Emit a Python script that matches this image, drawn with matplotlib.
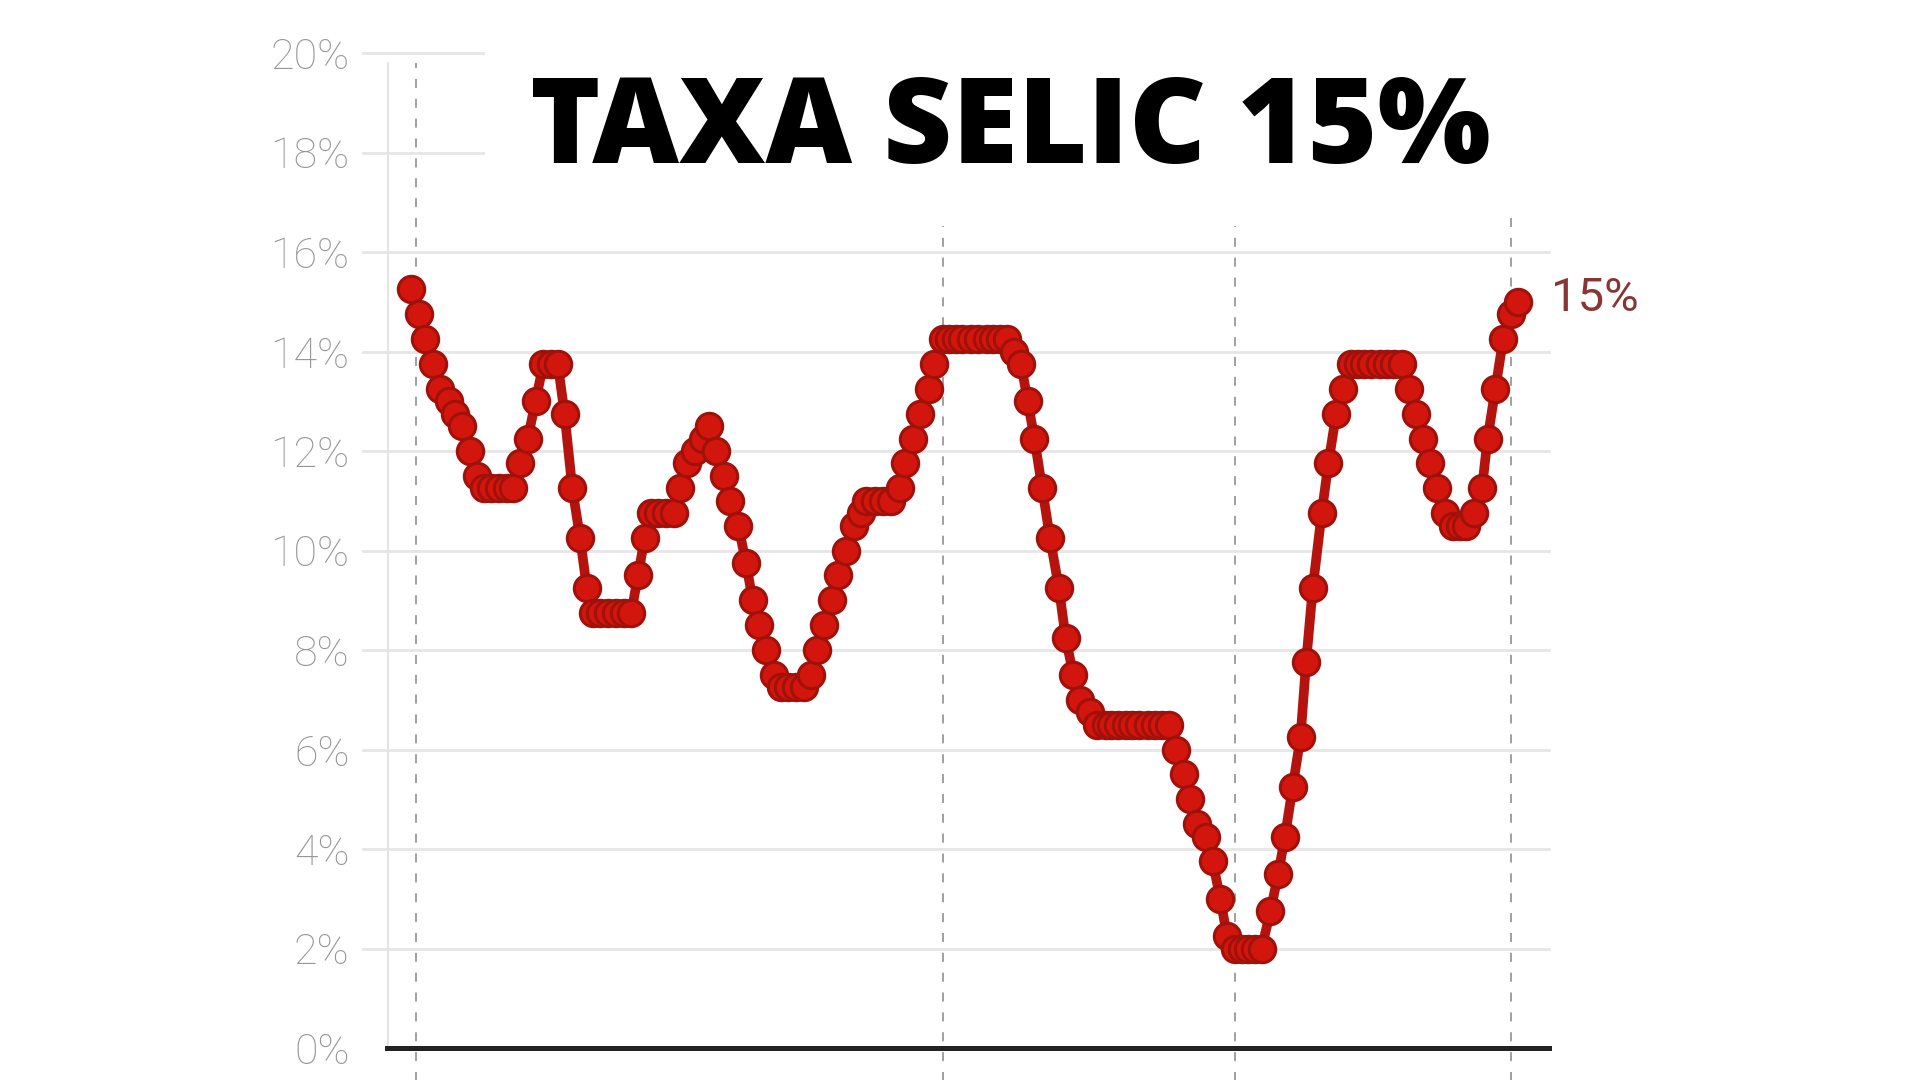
import matplotlib
matplotlib.use("Agg")
import matplotlib.pyplot as plt
import pandas as pd

# decisoes do Copom (data da reuniao, meta Selic em %)
datas = [
    "2006-05-31", "2006-07-19", "2006-08-30", "2006-10-18", "2006-11-29",
    "2007-01-24", "2007-03-07", "2007-04-18", "2007-06-06", "2007-07-18", "2007-09-05", "2007-10-17", "2007-12-05",
    "2008-01-23", "2008-03-05", "2008-04-16", "2008-06-04", "2008-07-23", "2008-09-10", "2008-10-29", "2008-12-10",
    "2009-01-21", "2009-03-11", "2009-04-29", "2009-06-10", "2009-07-22", "2009-09-02", "2009-10-21", "2009-12-09",
    "2010-01-27", "2010-03-17", "2010-04-28", "2010-06-09", "2010-07-21", "2010-09-01", "2010-10-20", "2010-12-08",
    "2011-01-19", "2011-03-02", "2011-04-20", "2011-06-08", "2011-07-20", "2011-08-31", "2011-10-19", "2011-11-30",
    "2012-01-18", "2012-03-07", "2012-04-18", "2012-05-30", "2012-07-11", "2012-08-29", "2012-10-10", "2012-11-28",
    "2013-01-16", "2013-03-06", "2013-04-17", "2013-05-29", "2013-07-10", "2013-08-28", "2013-10-09", "2013-11-27",
    "2014-01-15", "2014-02-26", "2014-04-02", "2014-05-28", "2014-07-16", "2014-09-03", "2014-10-29", "2014-12-03",
    "2015-01-21", "2015-03-04", "2015-04-29", "2015-06-03", "2015-07-29", "2015-09-02", "2015-10-21", "2015-11-25",
    "2016-01-20", "2016-03-02", "2016-04-27", "2016-06-08", "2016-07-20", "2016-08-31", "2016-10-19", "2016-11-30",
    "2017-01-11", "2017-02-22", "2017-04-12", "2017-05-31", "2017-07-26", "2017-09-06", "2017-10-25", "2017-12-06",
    "2018-02-07", "2018-03-21", "2018-05-16", "2018-06-20", "2018-08-01", "2018-09-19", "2018-10-31", "2018-12-12",
    "2019-02-06", "2019-03-20", "2019-05-08", "2019-06-19", "2019-07-31", "2019-09-18", "2019-10-30", "2019-12-11",
    "2020-02-05", "2020-03-18", "2020-05-06", "2020-06-17", "2020-08-05", "2020-09-16", "2020-10-28", "2020-12-09",
    "2021-01-20", "2021-03-17", "2021-05-05", "2021-06-16", "2021-08-04", "2021-09-22", "2021-10-27", "2021-12-08",
    "2022-02-02", "2022-03-16", "2022-05-04", "2022-06-15", "2022-08-03", "2022-09-21", "2022-10-26", "2022-12-07",
    "2023-02-01", "2023-03-22", "2023-05-03", "2023-06-21", "2023-08-02", "2023-09-20", "2023-11-01", "2023-12-13",
    "2024-01-31", "2024-03-20", "2024-05-08", "2024-06-19", "2024-07-31", "2024-09-18", "2024-11-06", "2024-12-11",
    "2025-01-29", "2025-03-19", "2025-05-07", "2025-06-18",
]
selic = [
    15.25, 14.75, 14.25, 13.75, 13.25,
    13.00, 12.75, 12.50, 12.00, 11.50, 11.25, 11.25, 11.25,
    11.25, 11.25, 11.75, 12.25, 13.00, 13.75, 13.75, 13.75,
    12.75, 11.25, 10.25, 9.25, 8.75, 8.75, 8.75, 8.75,
    8.75, 8.75, 9.50, 10.25, 10.75, 10.75, 10.75, 10.75,
    11.25, 11.75, 12.00, 12.25, 12.50, 12.00, 11.50, 11.00,
    10.50, 9.75, 9.00, 8.50, 8.00, 7.50, 7.25, 7.25,
    7.25, 7.25, 7.50, 8.00, 8.50, 9.00, 9.50, 10.00,
    10.50, 10.75, 11.00, 11.00, 11.00, 11.00, 11.25, 11.75,
    12.25, 12.75, 13.25, 13.75, 14.25, 14.25, 14.25, 14.25,
    14.25, 14.25, 14.25, 14.25, 14.25, 14.25, 14.00, 13.75,
    13.00, 12.25, 11.25, 10.25, 9.25, 8.25, 7.50, 7.00,
    6.75, 6.50, 6.50, 6.50, 6.50, 6.50, 6.50, 6.50,
    6.50, 6.50, 6.50, 6.50, 6.00, 5.50, 5.00, 4.50,
    4.25, 3.75, 3.00, 2.25, 2.00, 2.00, 2.00, 2.00,
    2.00, 2.75, 3.50, 4.25, 5.25, 6.25, 7.75, 9.25,
    10.75, 11.75, 12.75, 13.25, 13.75, 13.75, 13.75, 13.75,
    13.75, 13.75, 13.75, 13.75, 13.25, 12.75, 12.25, 11.75,
    11.25, 10.75, 10.50, 10.50, 10.50, 10.75, 11.25, 12.25,
    13.25, 14.25, 14.75, 15.00,
]
y_ticks = [0, 2, 4, 6, 8, 10, 12, 14, 16, 18, 20]
y_labels = [f"{v}%" for v in y_ticks]
marcos = ["2006-07-01", "2015-07-29", "2020-08-05", "2025-05-07"]
titulo = "TAXA SELIC 15%"
rotulo_final = "15%"

datas = pd.to_datetime(datas)
marcos = pd.to_datetime(marcos)

fig = plt.figure(figsize=(19.2, 10.8), dpi=100)
ax = fig.add_axes([387 / 1920, 32 / 1080, 1162 / 1920, 995 / 1080])

ax.set_xlim(pd.Timestamp("2006-01-01"), pd.Timestamp("2026-01-01"))
ax.set_ylim(0, 20)
for s in ax.spines.values():
    s.set_visible(False)

# grade horizontal, com um pequeno toco a esquerda do eixo
for v in y_ticks[1:]:
    ax.axhline(v, xmin=-0.021, xmax=1, color="#e6e6e6", lw=2, zorder=1, clip_on=False)
ax.axvline(pd.Timestamp("2006-01-01"), ymin=0, ymax=0.99, color="#e3e3e3", lw=2, zorder=1)
ax.axhline(0, xmin=0, xmax=1, color="#222222", lw=3.6, zorder=6, clip_on=False)

# linhas tracejadas de referencia
topos = [0.99, 0.826, 0.826, 0.835]
for d, t in zip(marcos, topos):
    ax.axvline(d, ymin=-0.035, ymax=t, color="#999999", lw=1.3,
               dashes=(5, 6), zorder=2, clip_on=False)

ax.plot(datas, selic, color="#b5140e", lw=7, marker="o", markersize=19,
        markerfacecolor="#d2150d", markeredgecolor="#a0110a", markeredgewidth=2.2,
        zorder=5, clip_on=False)

ax.set_yticks(y_ticks)
ax.set_yticklabels(y_labels, family="Roboto", fontweight="light",
                   fontsize=31, color="#969696")
ax.tick_params(axis="y", length=0, pad=27)
ax.set_xticks([])

ax.annotate(rotulo_final, xy=(datas[-1], selic[-1]), xytext=(24, 3),
            textcoords="offset points", va="center", ha="left",
            family="Roboto", fontsize=34, color="#873733")

# caixa branca atras do titulo
fig.patches.append(plt.Rectangle((485 / 1920, 865 / 1080), 1100 / 1920, 215 / 1080,
                                 transform=fig.transFigure, facecolor="white",
                                 edgecolor="none", zorder=3))
fig.text(1010 / 1920, (1080 - 163) / 1080, titulo, ha="center", va="baseline",
         family="Open Sans", fontweight="heavy", fontsize=86, color="black", zorder=4)

fig.savefig("out.png", dpi=100)
